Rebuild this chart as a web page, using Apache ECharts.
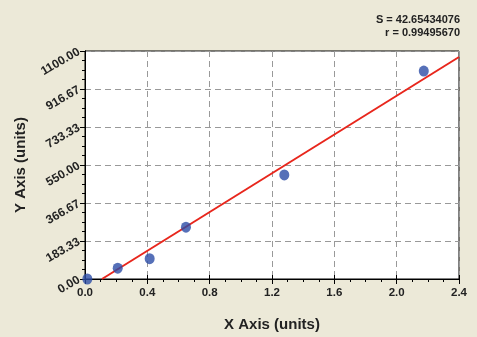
<!DOCTYPE html>
<html><head><meta charset="utf-8">
<script src="https://cdn.jsdelivr.net/npm/echarts@6/dist/echarts.min.js"></script>
<style>html,body{margin:0;padding:0;background:#ece9d8}#c{width:477px;height:337px}</style>
</head><body><div id="c"></div>
<script>
const pointsX = [0.015, 0.21, 0.415, 0.648, 1.279, 2.174];
const pointsY = [0, 52, 98, 250, 502, 1003];
const fitX = [0.109, 2.4];
const fitY = [0, 1071];
const statLines = ['S = 42.65434076', 'r = 0.99495670'];
const xTitle = 'X Axis (units)';
const yTitle = 'Y Axis (units)';

const chart = echarts.init(document.getElementById('c'));
const font = 'Liberation Sans, Arial, sans-serif';
chart.setOption({
  backgroundColor: '#ece9d8',
  animation: false,
  grid: {left: 85, right: 18, top: 51, bottom: 58, show: true, backgroundColor: '#fff', borderColor: '#000', borderWidth: 1, outerBoundsMode: 'none'},
  graphic: statLines.map((t, i) => ({
    type: 'text', right: 17, top: 14 + i * 13,
    style: {text: t, font: 'bold 11px ' + font, fill: '#222', textAlign: 'right'}
  })),
  xAxis: [{
    type: 'value', min: 0, max: 2.4, interval: 0.4,
    name: xTitle, nameLocation: 'middle', nameGap: 38,
    nameTextStyle: {fontFamily: font, fontWeight: 'bold', fontSize: 15, color: '#222'},
    axisLine: {show: true, lineStyle: {color: '#000', width: 1}},
    axisTick: {show: true, length: 5, lineStyle: {color: '#000'}},
    minorTick: {show: true, splitNumber: 4, length: 3, lineStyle: {color: '#000'}},
    axisLabel: {fontFamily: font, fontWeight: 'bold', fontSize: 11.5, color: '#222', margin: 8, formatter: v => v.toFixed(1)},
    splitLine: {show: true, lineStyle: {color: '#999', type: [6, 4], width: 1}}
  }, {
    type: 'value', position: 'top', min: 0, max: 2.4, interval: 0.4,
    axisLine: {show: true, lineStyle: {color: '#000'}},
    axisTick: {show: true, length: 4, lineStyle: {color: '#000'}},
    axisLabel: {show: false}, splitLine: {show: false}
  }],
  yAxis: [{
    type: 'value', min: 0, max: 1100, interval: 1100 / 6,
    name: yTitle, nameLocation: 'middle', nameGap: 56,
    nameTextStyle: {fontFamily: font, fontWeight: 'bold', fontSize: 15, color: '#222'},
    axisLine: {show: true, lineStyle: {color: '#000', width: 1}},
    axisTick: {show: true, length: 5, lineStyle: {color: '#000'}},
    minorTick: {show: true, splitNumber: 4, length: 3, lineStyle: {color: '#000'}},
    axisLabel: {fontFamily: font, fontWeight: 'bold', fontSize: 12, color: '#222', rotate: 30, margin: 6, formatter: v => v.toFixed(2)},
    splitLine: {show: true, lineStyle: {color: '#999', type: [6, 4], width: 1}}
  }, {
    type: 'value', position: 'right', min: 0, max: 1100,
    axisLine: {show: true, lineStyle: {color: '#000'}},
    axisTick: {show: false}, axisLabel: {show: false}, splitLine: {show: false}
  }],
  series: [{
    type: 'line', data: fitX.map((x, i) => [x, fitY[i]]),
    showSymbol: false, symbol: 'none', lineStyle: {color: '#e8261c', width: 2}, z: 2
  }, {
    type: 'scatter', data: pointsX.map((x, i) => [x, pointsY[i]]),
    symbol: 'circle', symbolSize: [10, 11], itemStyle: {color: '#2c4ca6'}, z: 3
  }]
});
</script></body></html>
